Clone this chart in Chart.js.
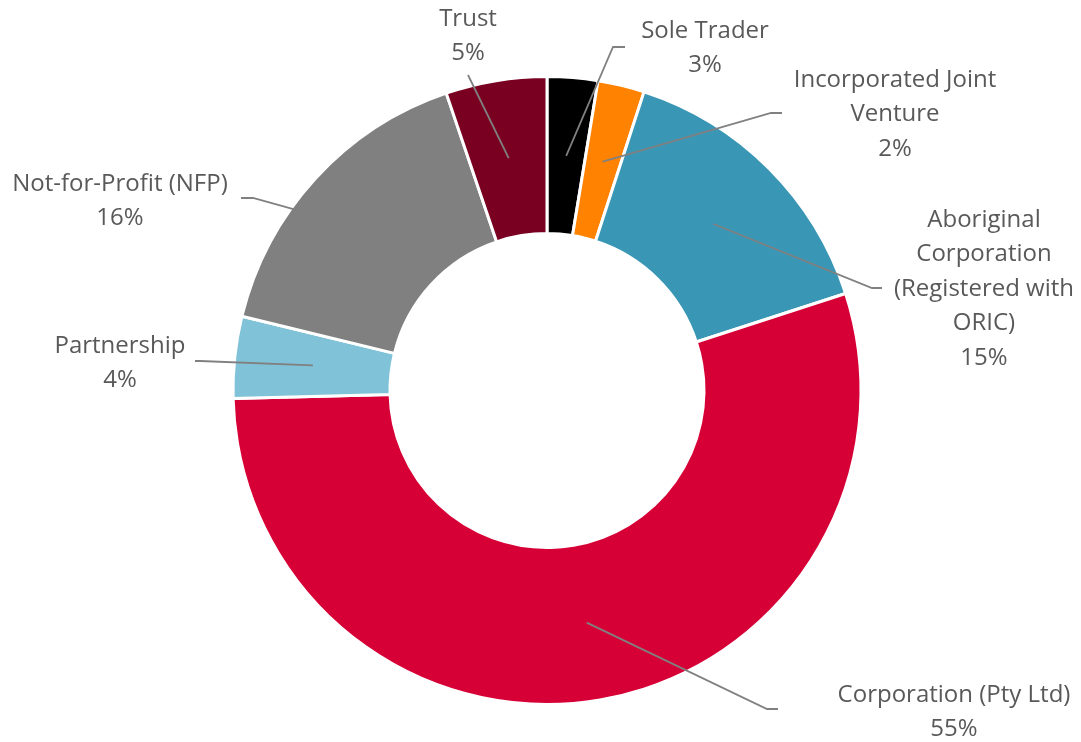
<!DOCTYPE html>
<html>
<head>
<meta charset="utf-8">
<script src="https://cdn.jsdelivr.net/npm/chart.js@4.4.1/dist/chart.umd.min.js"></script>
<style>
  html, body { margin: 0; padding: 0; background: #fff; }
  #wrap { width: 1081px; height: 742px; position: relative; }
</style>
</head>
<body>
<div id="wrap"><canvas id="entityChart"></canvas></div>
<script>
  "use strict";

  // data (share of entities, %)
  const categories = [
    "Sole Trader",
    "Incorporated Joint Venture",
    "Aboriginal Corporation (Registered with ORIC)",
    "Corporation (Pty Ltd)",
    "Partnership",
    "Not-for-Profit (NFP)",
    "Trust",
  ];
  const shares = [2.6, 2.4, 15.0, 54.6, 4.2, 16.0, 5.2];
  const sliceColors = ["#000000", "#FF8200", "#3A96B5", "#D70036", "#80C2D7", "#808080", "#7A0022"];

  // label placement (text centre, elbow of the leader line)
  const labelLayout = [
    { lines: ["Sole Trader"], x: 705, y: 31, ex: 613, ey: 47, hx: 625 },
    { lines: ["Incorporated Joint", "Venture"], x: 895, y: 80, ex: 771, ey: 113, hx: 782 },
    { lines: ["Aboriginal", "Corporation", "(Registered with", "ORIC)"], x: 984, y: 220, ex: 872, ey: 288, hx: 882 },
    { lines: ["Corporation (Pty Ltd)"], x: 954, y: 695, ex: 767, ey: 709, hx: 778 },
    { lines: ["Partnership"], x: 120, y: 346, ex: 200, ey: 361, hx: 195 },
    { lines: ["Not-for-Profit (NFP)"], x: 120, y: 184, ex: 253, ey: 198, hx: 241 },
    { lines: ["Trust"], x: 468, y: 19, ex: 468, ey: 75, hx: 468 },
  ];

  const lineGap = 34.5;

  // draws the outside labels with leader lines from each slice centre
  const outsideLabels = {
    id: "outsideLabels",
    afterDatasetsDraw(chart) {
      const ctx = chart.ctx;
      const meta = chart.getDatasetMeta(0);
      const total = shares.reduce((a, b) => a + b, 0);
      ctx.save();
      meta.data.forEach((arc, i) => {
        const lay = labelLayout[i];
        const p = arc.getCenterPoint();
        ctx.strokeStyle = "#808080";
        ctx.lineWidth = 1.8;
        ctx.beginPath();
        ctx.moveTo(p.x, p.y);
        ctx.lineTo(lay.ex, lay.ey);
        ctx.lineTo(lay.hx, lay.ey);
        ctx.stroke();

        const pct = Math.round((shares[i] / total) * 100) + "%";
        const rows = lay.lines.concat([pct]);
        ctx.fillStyle = "#595959";
        ctx.font = "400 24px 'Open Sans', sans-serif";
        ctx.textAlign = "center";
        ctx.textBaseline = "middle";
        rows.forEach((t, k) => {
          ctx.fillText(t, lay.x, lay.y + k * lineGap);
        });
      });
      ctx.restore();
    },
  };

  const ctx = document.getElementById("entityChart");
  const entityChart = new Chart(ctx, {
    type: "doughnut",
    data: {
      labels: categories,
      datasets: [
        {
          data: shares,
          backgroundColor: sliceColors,
          borderColor: "#ffffff",
          borderWidth: 3,
        },
      ],
    },
    options: {
      responsive: true,
      maintainAspectRatio: false,
      animation: false,
      cutout: "50%",
      layout: {
        padding: { top: 75, bottom: 36, left: 13, right: 0 },
      },
      plugins: {
        legend: { display: false },
        tooltip: { enabled: false },
      },
    },
    plugins: [outsideLabels],
  });
</script>
</body>
</html>
